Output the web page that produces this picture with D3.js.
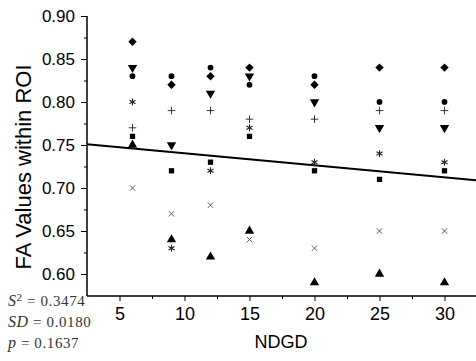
<!DOCTYPE html>
<html>
<head>
<meta charset="utf-8">
<script src="https://cdn.jsdelivr.net/npm/d3@7"></script>
<style>
  body { margin: 0; background: #fff; }
  svg { display: block; }
</style>
</head>
<body>
<div class="chart"></div>
<script>
// NDGD values on the x axis
const ndgd = [6, 9, 12, 15, 20, 25, 30];

// FA values per marker series, one per NDGD column
const diamond  = [0.87, 0.82, 0.83, 0.84, 0.82, 0.84, 0.84];
const circle   = [0.83, 0.83, 0.84, 0.82, 0.83, 0.80, 0.80];
const triDown  = [0.84, 0.75, 0.81, 0.83, 0.80, 0.77, 0.77];
const asterisk = [0.80, 0.63, 0.72, 0.77, 0.73, 0.74, 0.73];
const plus     = [0.77, 0.79, 0.79, 0.78, 0.78, 0.79, 0.79];
const square   = [0.76, 0.72, 0.73, 0.76, 0.72, 0.71, 0.72];
const triUp    = [0.75, 0.64, 0.62, 0.65, 0.59, 0.60, 0.59];
const cross    = [0.70, 0.67, 0.68, 0.64, 0.63, 0.65, 0.65];

// regression line end points
const fitX = [2.5, 32.5];
const fitY = [0.751, 0.709];

const xTicks = [5, 10, 15, 20, 25, 30];
const yTicks = [0.60, 0.65, 0.70, 0.75, 0.80, 0.85, 0.90];

const stats = [
  { name: "S", sup: "2", value: "0.3474" },
  { name: "SD", sup: "", value: "0.0180" },
  { name: "p", sup: "", value: "0.1637" }
];

const width = 476, height = 361;
const mLeft = 87, mRight = 477, mTop = 16, mBottom = 296;

const svg = d3.select(".chart").append("svg")
  .attr("width", width)
  .attr("height", height);

const x = d3.scaleLinear().domain([2.5, 32.5]).range([mLeft, mRight]);
const y = d3.scaleLinear().domain([0.5744, 0.90]).range([mBottom, mTop]);

// axes: major + minor ticks
const axisFont = "Arial, 'Liberation Sans', sans-serif";

const yAxis = svg.append("g").attr("transform", `translate(${mLeft},0)`);
yAxis.call(d3.axisLeft(y).tickValues(yTicks).tickSize(6).tickPadding(6)
  .tickFormat(d3.format(".2f")));
yAxis.append("g").call(d3.axisLeft(y).tickValues([0.625, 0.675, 0.725, 0.775, 0.825, 0.875])
  .tickSize(3).tickFormat(""));

const xAxis = svg.append("g").attr("transform", `translate(0,${mBottom})`);
xAxis.call(d3.axisBottom(x).tickValues(xTicks).tickSize(5).tickPadding(4));
xAxis.append("g").call(d3.axisBottom(x).tickValues([7.5, 12.5, 17.5, 22.5, 27.5, 32.5])
  .tickSize(3).tickFormat(""));

svg.selectAll(".domain").attr("stroke", "#000").attr("stroke-width", 1);
svg.selectAll(".tick line").attr("stroke", "#000");
yAxis.selectAll(".domain").attr("d", `M0,${mBottom}V${mTop}`);
xAxis.selectAll(".domain").attr("d", `M${mLeft},0H${mRight}`);
svg.selectAll(".tick text")
  .attr("font-family", axisFont)
  .attr("font-size", 17)
  .attr("fill", "#000");
xAxis.selectAll(".tick text").attr("font-size", 18).attr("dy", "0.85em");

// axis titles
svg.append("text")
  .attr("transform", `translate(31,${(mTop + mBottom) / 2 + 11}) rotate(-90)`)
  .attr("text-anchor", "middle")
  .attr("font-family", axisFont)
  .attr("font-size", 22)
  .text("FA Values within ROI");

svg.append("text")
  .attr("x", 281).attr("y", 348)
  .attr("text-anchor", "middle")
  .attr("font-family", axisFont)
  .attr("font-size", 18)
  .text("NDGD");

// regression line
svg.append("path")
  .datum(d3.zip(fitX, fitY))
  .attr("fill", "none")
  .attr("stroke", "#000")
  .attr("stroke-width", 2)
  .attr("d", d3.line().x(d => x(d[0])).y(d => y(d[1])));

// markers
const series = [
  { vals: diamond,  shape: d3.symbolDiamond2, size: 45, kind: "fill" },
  { vals: circle,   shape: d3.symbolCircle,   size: 26, kind: "fill" },
  { vals: square,   shape: d3.symbolSquare,   size: 28, kind: "fill" },
  { vals: triUp,    shape: d3.symbolTriangle, size: 38, kind: "fill" },
  { vals: triDown,  shape: d3.symbolTriangle, size: 38, kind: "fill", rot: 180 },
  { vals: plus,     shape: d3.symbolCross,    size: 0,  kind: "plus" },
  { vals: asterisk, shape: null,              size: 0,  kind: "star" },
  { vals: cross,    shape: null,              size: 0,  kind: "x" }
];

series.forEach(s => {
  const g = svg.append("g");
  const pts = g.selectAll("g").data(d3.zip(ndgd, s.vals)).join("g")
    .attr("transform", d => `translate(${x(d[0])},${y(d[1])})${s.rot ? " rotate(" + s.rot + ")" : ""}`);
  if (s.kind === "fill") {
    pts.append("path")
      .attr("d", d3.symbol().type(s.shape).size(s.size))
      .attr("fill", "#000");
  } else {
    let arms;
    if (s.kind === "plus") arms = [0, 90];
    else if (s.kind === "x") arms = [45, 135];
    else arms = [0, 60, 120];
    const r = s.kind === "star" ? 3.5 : 3.8;
    arms.forEach(a => {
      pts.append("line")
        .attr("x1", -r).attr("x2", r)
        .attr("transform", `rotate(${s.kind === "star" ? a + 90 : a})`)
        .attr("stroke", s.kind === "x" ? "#555" : "#222")
        .attr("stroke-width", s.kind === "star" ? 1.1 : 0.9);
    });
  }
});

// stats block
const st = svg.append("g")
  .attr("font-family", "'Liberation Serif', 'DejaVu Serif', serif")
  .attr("font-size", 15)
  .attr("letter-spacing", 0.6)
  .attr("fill", "#333");
stats.forEach((d, i) => {
  const t = st.append("text").attr("x", 8).attr("y", 306 + i * 21);
  t.append("tspan").attr("font-style", "italic").attr("font-size", 16).text(d.name);
  if (d.sup) t.append("tspan").attr("dy", -5).attr("font-size", 11).text(d.sup);
  t.append("tspan").attr("dy", d.sup ? 5 : 0).text(" = " + d.value);
});
</script>
</body>
</html>
